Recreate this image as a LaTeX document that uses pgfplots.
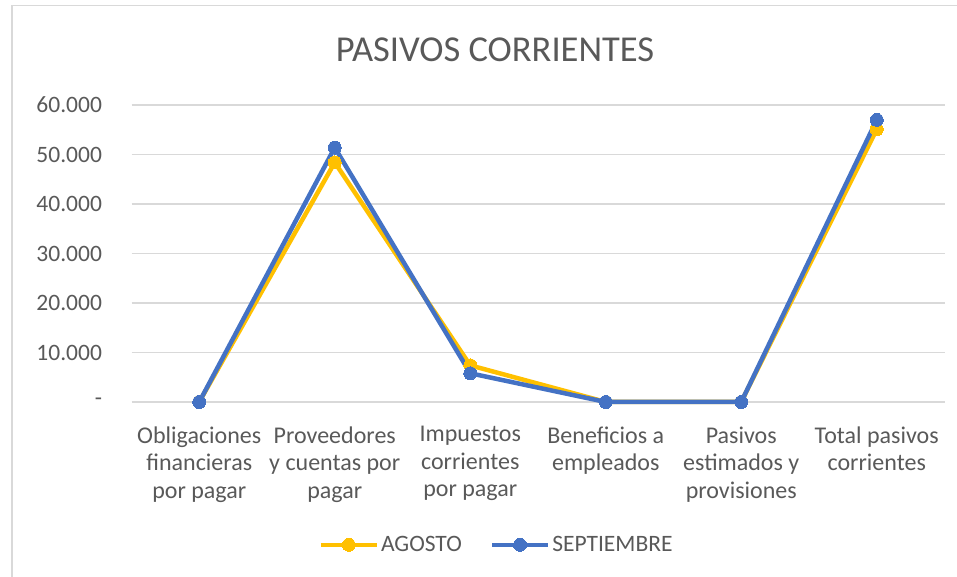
\documentclass[border=0pt]{standalone}
\usepackage{pgfplots}
\pgfplotsset{compat=1.18}
\usepackage{fontspec}
\setmainfont{Carlito}
\definecolor{agosto}{HTML}{FFC000}
\definecolor{sept}{HTML}{4472C4}
\definecolor{txt}{HTML}{595959}
\definecolor{gridc}{HTML}{D9D9D9}
\begin{document}
\begin{tikzpicture}[x=1bp,y=1bp]
\useasboundingbox (0,0) rectangle (957,577);
\draw[draw=gridc, line width=1.5bp] (12,0) -- (12,571.5) -- (957,571.5);
\node[text=txt, font=\fontsize{36.5bp}{40bp}\selectfont] at (495,527) {PASIVOS CORRIENTES};
\begin{axis}[
  at={(131.5bp,175bp)}, anchor=south west,
  scale only axis, width=813bp, height=297bp,
  xmin=-0.5, xmax=5.5, ymin=0, ymax=60000,
  ytick={0,10000,20000,30000,40000,50000,60000},
  yticklabels={-\hspace{11bp},10.000,20.000,30.000,40.000,50.000,60.000},
  xtick={0,1,2,3,4,5},
  xticklabels={Obligaciones\\financieras\\por pagar, Proveedores\\y cuentas por\\pagar, Impuestos\\corrientes\\por pagar, Beneficios a\\empleados, Pasivos\\estimados y\\provisiones, Total pasivos\\corrientes},
  xticklabel style={align=center, text=txt, font=\fontsize{24bp}{27.5bp}\selectfont, anchor=north, yshift=-21bp},
  yticklabel style={text=txt, font=\fontsize{23.5bp}{26bp}\selectfont, anchor=east, xshift=-26bp},
  scaled y ticks=false,
  axis line style={draw=none},
  tick style={draw=none},
  ymajorgrids, major grid style={draw=gridc, line width=1.3bp},
  clip=false,
  legend columns=2,
  legend style={at={(0.449,-0.481)}, anchor=center, draw=none, fill=none,
    font=\fontsize{23.5bp}{26bp}\selectfont, text=txt,
    /tikz/every even column/.append style={column sep=26bp}},
  legend image code/.code={\draw[mark repeat=2,mark phase=2] plot coordinates {(0bp,0bp) (28bp,0bp) (56bp,0bp)};},
]
\addplot[color=agosto, line width=4.5bp, mark=*, mark size=6.5bp, mark options={fill=agosto, line width=0pt}] coordinates {
  (0,0) (1,48400) (2,7400) (3,0) (4,0) (5,55100)};
\addlegendentry{AGOSTO}
\addplot[color=sept, line width=4.5bp, mark=*, mark size=6.5bp, mark options={fill=sept, line width=0pt}] coordinates {
  (0,0) (1,51400) (2,5800) (3,0) (4,0) (5,57000)};
\addlegendentry{SEPTIEMBRE}
\end{axis}
\end{tikzpicture}
\end{document}
